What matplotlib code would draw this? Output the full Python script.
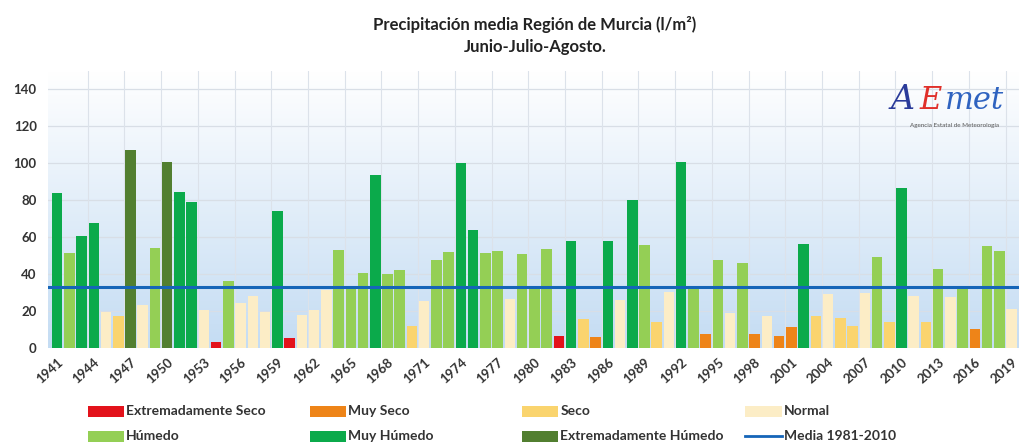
import numpy as np
import matplotlib
matplotlib.use("Agg")
import matplotlib.pyplot as plt
from matplotlib.patches import Patch, Rectangle
from matplotlib.lines import Line2D
from matplotlib.colors import LinearSegmentedColormap

plt.rcParams['font.family'] = ['Lato', 'DejaVu Sans']

years = list(range(1941, 2020))
values = [84, 51.5, 60.5, 67.5, 19.5, 17, 107, 23, 54, 100.5, 84.5, 79, 20.5, 3.4, 36, 24.5, 28, 19.5, 74, 5.6,
          18, 20.7, 31.5, 53, 32, 40.5, 93.5, 40, 42.4, 11.6, 25.5, 47.5, 51.8, 100, 64, 51.4, 52.4, 26.4, 50.9, 32,
          53.3, 6.2, 57.8, 15.6, 5.8, 57.8, 26.1, 80, 55.6, 13.9, 30.1, 100.5, 32.2, 7.4, 47.8, 18.8, 46, 7.4, 17.4, 6.2,
          11.1, 56.5, 17, 29.2, 16.1, 12, 29.7, 49.3, 13.9, 86.8, 27.9, 13.9, 42.8, 27.4, 32, 10.3, 55.1, 52.7, 21]
# category codes: ES, MS, S, N, H, MH, EH
categories = ['MH', 'H', 'MH', 'MH', 'N', 'S', 'EH', 'N', 'H', 'EH', 'MH', 'MH', 'N', 'ES', 'H', 'N', 'N', 'N', 'MH', 'ES',
              'N', 'N', 'N', 'H', 'H', 'H', 'MH', 'H', 'H', 'S', 'N', 'H', 'H', 'MH', 'MH', 'H', 'H', 'N', 'H', 'H',
              'H', 'ES', 'MH', 'S', 'MS', 'MH', 'N', 'MH', 'H', 'S', 'N', 'MH', 'H', 'MS', 'H', 'N', 'H', 'MS', 'N', 'MS',
              'MS', 'MH', 'S', 'N', 'S', 'S', 'N', 'H', 'S', 'MH', 'N', 'S', 'H', 'N', 'H', 'MS', 'H', 'H', 'N']
mean_value = 33.2

labels = ['Extremadamente Seco', 'Muy Seco', 'Seco', 'Normal',
          'Húmedo', 'Muy Húmedo', 'Extremadamente Húmedo']
codes = ['ES', 'MS', 'S', 'N', 'H', 'MH', 'EH']
colors = {'ES': '#E3121B', 'MS': '#EE8418', 'S': '#FAD46E', 'N': '#FCEDC6',
          'H': '#94CF55', 'MH': '#0BAA4B', 'EH': '#527F30'}

fig = plt.figure(figsize=(10.19, 4.46), dpi=100)
ax = fig.add_axes([0.047, 0.22, 0.953, 0.621])

x = np.arange(len(years))
ax.set_xlim(-0.75, len(years) - 0.4)
ax.set_ylim(0, 150)

# gradient background
grad = np.linspace(0, 1, 256).reshape(-1, 1)
cmap = LinearSegmentedColormap.from_list('bg', ['#C4DCF3', '#FFFFFF'])
ax.imshow(grad, extent=[-0.75, len(years) - 0.4, 0, 150], origin='lower', aspect='auto', cmap=cmap, zorder=0)

for yv in range(20, 160, 20):
    ax.axhline(yv, color='#D8DEE6', lw=0.9, zorder=1)
for xv in np.arange(2.5, len(years), 3):
    ax.axvline(xv, color='#DCE2EA', lw=0.8, zorder=1)

ax.bar(x, values, width=0.86, color=[colors[c] for c in categories], zorder=2)
ax.axhline(mean_value, color='#1565B8', lw=2.2, zorder=3)

ax.set_yticks(range(0, 160, 20))
ax.set_yticklabels([str(v) if v <= 140 else '' for v in range(0, 160, 20)])
ax.set_xticks(x[::3])
ax.set_xticklabels([str(y) for y in years[::3]], rotation=42, ha='right', rotation_mode='anchor')
ax.tick_params(axis='both', length=0, labelsize=9.5, labelcolor='#333333')
ax.tick_params(axis='x', pad=6)
ax.tick_params(axis='y', pad=8)
for t in ax.get_xticklabels() + ax.get_yticklabels():
    t.set_fontweight('bold')
for s in ax.spines.values():
    s.set_visible(False)

fig.text(0.525, 0.945, 'Precipitación media Región de Murcia (l/m²)', ha='center', va='center',
         fontsize=12, fontweight='bold', color='#222222')
fig.text(0.525, 0.895, 'Junio-Julio-Agosto.', ha='center', va='center',
         fontsize=12, fontweight='bold', color='#222222')

# logo
fig.text(0.874, 0.775, 'A', fontsize=24, color='#2A3B9A', style='italic', ha='left', va='center',
         family='DejaVu Serif')
fig.text(0.902, 0.775, 'E', fontsize=22, color='#E0302A', style='italic', ha='left', va='center',
         family='DejaVu Serif')
fig.text(0.927, 0.775, 'met', fontsize=22, color='#2F63C0', style='italic', ha='left', va='center',
         family='DejaVu Serif')
fig.text(0.937, 0.718, 'Agencia Estatal de Meteorología', fontsize=4.5, color='#555555',
         ha='center', va='center')

# legend
leg_labels = labels + ['Media 1981-2010']
xs = [0.086, 0.304, 0.512, 0.731]
ys = [0.078, 0.022]
for k, lab in enumerate(leg_labels):
    r, c = divmod(k, 4)
    fx, fy = xs[c], ys[r]
    if k < len(codes):
        fig.patches.append(Rectangle((fx, fy - 0.012), 0.036, 0.024, transform=fig.transFigure,
                                     facecolor=colors[codes[k]], edgecolor='none'))
    else:
        fig.lines.append(Line2D([fx, fx + 0.036], [fy, fy], transform=fig.transFigure,
                                color='#1565B8', lw=2))
    fig.text(fx + 0.038, fy, lab, fontsize=10, fontweight='bold', color='#333333', va='center', ha='left')

fig.savefig('out.png', dpi=100, facecolor='white')
